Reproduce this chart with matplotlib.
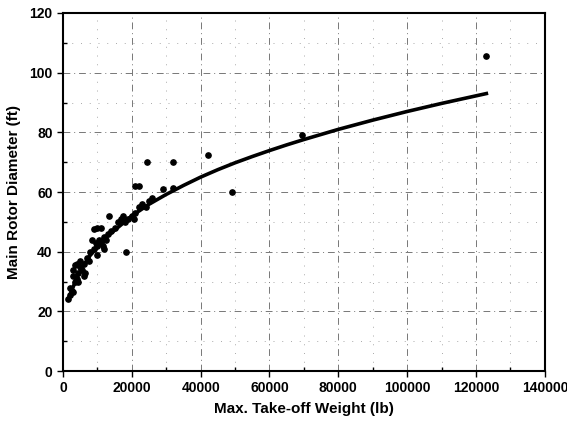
import matplotlib
matplotlib.use('Agg')
import matplotlib.pyplot as plt
from matplotlib.ticker import MultipleLocator

plt.rcParams['font.family'] = ['Liberation Sans', 'DejaVu Sans']

# helicopter data: max take-off weight (lb) vs main rotor diameter (ft)
weight = [1500, 2000, 2500, 3000, 2000, 3500, 2800, 4000, 3000, 4500, 5000, 4000,
          5500, 6000, 3500, 6500, 5000, 7000, 7500, 6000, 4500,
          8000, 9000, 9500, 10000, 10500, 11000, 12000, 11500, 12500, 13000,
          9000, 10000, 11000, 8500, 10000, 12000, 14000, 13500, 15000, 16000,
          17000, 17500, 18000, 18200, 19000, 20000, 20500, 21000, 22000, 23000,
          24000, 25000, 26000, 21000, 22000, 24500, 32000, 29000, 32000, 42000,
          49000, 69500, 123000]
diameter = [24, 25.5, 27, 26.5, 28, 30, 32, 31, 34, 33, 35, 36,
            34, 36, 35.5, 33, 37, 38, 37, 32, 30,
            40, 41, 43, 42, 44, 43, 45, 42, 44, 46,
            47.5, 48, 48, 44, 39, 41, 47, 52, 48, 50,
            51, 52, 50, 40, 51, 52, 51, 53, 55, 56,
            55, 57, 58, 62, 62, 70, 70, 61, 61.5, 72.5,
            60, 79, 105.5]

# trend curve
fit_w = [1500, 2500, 4000, 6000, 8000, 10000, 12500, 15000, 17500, 20000,
         25000, 30000, 35000, 40000, 45000, 50000, 55000, 60000, 65000,
         70000, 75000, 80000, 90000, 100000, 110000, 123000]
fit_d = [24, 26.8, 31.2, 35.5, 38.9, 41.5, 44.8, 47.2, 49.6, 52,
         55.9, 59.2, 62.2, 65, 67.5, 69.8, 71.9, 73.9, 75.8,
         77.6, 79.3, 81, 84.1, 87, 89.7, 93]

fig = plt.figure(figsize=(5.67, 4.33), dpi=100)
ax = fig.add_axes([0.111, 0.143, 0.850, 0.827])

ax.plot(fit_w, fit_d, color='black', lw=2.6, zorder=3)
ax.plot(weight, diameter, 'o', color='black', ms=3.8, zorder=4)

ax.set_xlim(0, 140000)
ax.set_ylim(0, 120)
ax.xaxis.set_major_locator(MultipleLocator(20000))
ax.xaxis.set_minor_locator(MultipleLocator(10000))
ax.yaxis.set_major_locator(MultipleLocator(20))
ax.yaxis.set_minor_locator(MultipleLocator(10))

ax.grid(which='major', color='#777777', ls=(0, (7, 4, 1, 4)), lw=0.7)
ax.grid(which='minor', color='#aaaaaa', ls=(0, (1, 8)), lw=0.7)
ax.set_axisbelow(True)

ax.tick_params(which='major', direction='out', length=4, width=1, labelsize=10)
ax.tick_params(which='minor', direction='in', length=3, width=1)
for lab in ax.get_xticklabels() + ax.get_yticklabels():
    lab.set_fontweight('bold')
for spine in ax.spines.values():
    spine.set_linewidth(1.5)

ax.set_xlabel('Max. Take-off Weight (lb)', fontsize=11, fontweight='bold', labelpad=5)
ax.set_ylabel('Main Rotor Diameter (ft)', fontsize=11, fontweight='bold', labelpad=6)

fig.savefig('out.png', dpi=100)
plt.close(fig)
